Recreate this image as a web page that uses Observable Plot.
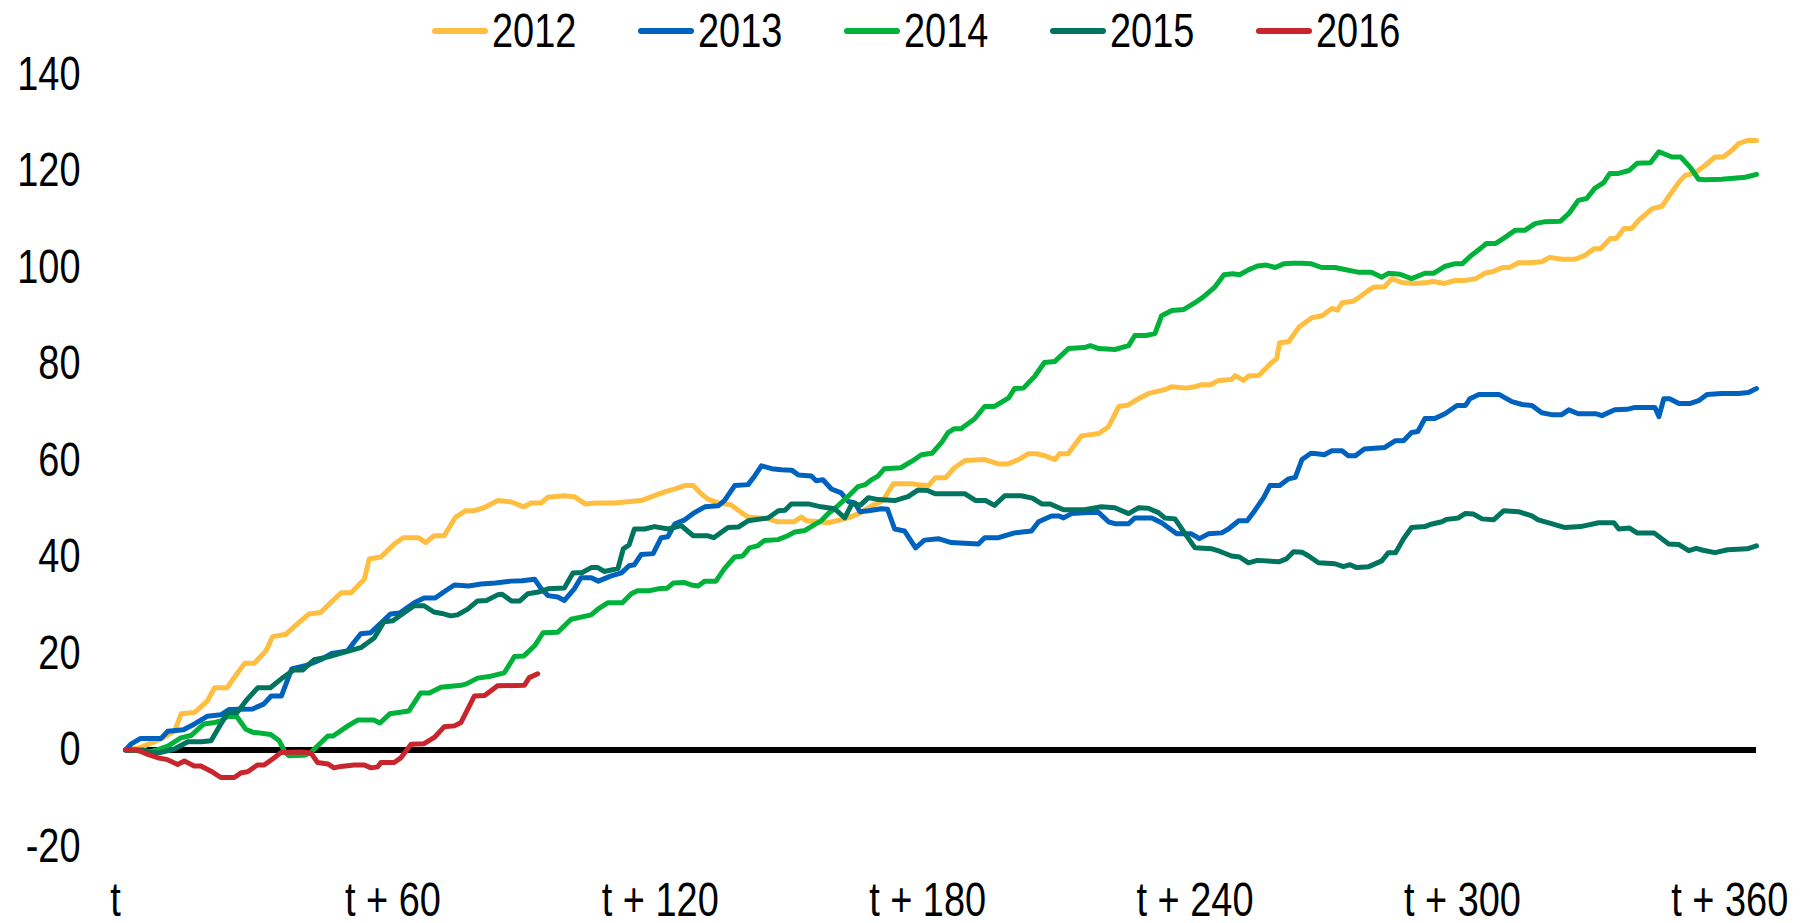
<!DOCTYPE html>
<html>
<head>
<meta charset="utf-8">
<script src="https://cdn.jsdelivr.net/npm/d3@7"></script>
<script src="https://cdn.jsdelivr.net/npm/@observablehq/plot@0.6"></script>
<style>
  html, body { margin: 0; padding: 0; background: #fff; overflow: hidden; }
  body { width: 1810px; height: 923px; position: relative; font-family: "Liberation Sans", Arial, sans-serif; }
  #legend { position: absolute; left: 0; top: 0; width: 1810px; height: 62px; z-index: 2; }
  .item { position: absolute; top: 0; height: 62px; display: flex; align-items: center; }
  .sw { width: 56px; height: 6px; border-radius: 3px; margin-right: 4px; flex: none; }
  .lab { display: inline-block; font-size: 48px; line-height: 48px; color: #000; transform: scaleX(0.79); transform-origin: left center; white-space: nowrap; }
  #chart { position: absolute; left: 0; top: 0; }
</style>
</head>
<body>
<div id="chart"></div>
<div id="legend"></div>
<script>
const seriesNames = ["2012", "2013", "2014", "2015", "2016"];
const seriesColors = ["#FFBE3F", "#0062BF", "#00B23A", "#00745F", "#C9252C"];

const yTicks = [-20, 0, 20, 40, 60, 80, 100, 120, 140];
const xTickDays = [0, 60, 120, 180, 240, 300, 360];
const xTickLabels = ["t", "t + 60", "t + 120", "t + 180", "t + 240", "t + 300", "t + 360"];

const days2012 = [0,3,8,11,12.5,15.5,18.4,20,22.8,25,26.8,28.9,31.5,33,36,39.4,41.2,43.8,46,48.4,50.6,53.6,54.7,57.3,60.3,62.3,65.7,67.4,69.2,71.5,74,76.4,78.3,80.6,83.6,86.6,89.4,91,93.3,94.8,98.5,100.7,103.2,105.6,109.7,115.7,118.7,121,123.3,125.5,127.4,129.2,130.7,133,135.9,138.2,139.7,144.2,146.4,150,151.7,152.8,155.5,157.7,162.2,165,167.4,170,172.3,176.4,177.9,180.2,181.7,184,186,188.4,192.8,195.9,198,200.4,202.6,204.5,206.2,208.6,209.6,211.5,214.5,218.4,220.6,222.9,225,227.3,229.6,233.2,234.8,238,240,241.5,243.5,245.3,248.2,249,250.9,252,254.3,257.2,258.3,259,261,263.3,266.2,268.5,270.7,272,273,275.5,277.4,278.5,280,282.5,284.2,286.4,289.4,292,293.5,296,298.4,300.5,303,305,307,309,310.5,312.6,315,317.8,319.6,322.3,325.3,327.5,329.5,331,333.2,334.5,336.3,338,339.6,342.6,344.8,346.5,348.6,350,352,354.5,356.7,358.5,360.5,362,363.9,366];
const vals2012 = [0,0.4,2.3,3.9,7.5,7.8,10.2,12.9,12.9,15.8,18,18,20.5,23.5,24,26.8,28.2,28.5,30.5,32.6,32.6,35.4,39.6,40,42.7,44,44,43,44.4,44.4,48.2,49.6,49.6,50.3,51.7,51.4,50.4,51.2,51.2,52.4,52.7,52.5,51,51.2,51.2,51.7,52.7,53.5,54.1,54.8,54.8,53.1,52,51.2,50.8,49.2,48.3,47.9,47.3,47.3,48.3,47.5,47.3,47.1,48.1,49.2,50.6,51.7,55.2,55.2,55,54.8,56.4,56.4,58.5,60,60.2,59.3,59.3,60.2,61.4,61.4,61,60.2,61.4,61.4,65.1,65.6,67,71.2,71.5,72.8,73.9,74.7,75.3,75,75.3,75.7,75.7,76.6,76.8,77.6,76.6,77.5,77.6,80.3,81.1,84.4,84.6,87.6,89.6,90,91.5,91.2,92.7,93,94.2,95,95.9,96,97.7,96.9,96.7,96.9,97.1,96.7,97.3,97.3,97.7,98.8,99.2,100,100,101,101,101.2,102.1,101.7,101.7,102.5,103.9,103.9,106,106,108.1,108.1,109.8,112.2,112.7,115,117.7,119.1,119.5,121.2,122.9,122.9,124.3,125.7,126.3,126.3];

const days2013 = [0,1.2,3.4,8,9.5,13,15.5,18.4,21.4,23.3,28.5,31,32.7,35,37.3,40.8,43.8,46.3,49.8,51.5,52.8,55,56.6,59.5,61.5,64.8,67,69.5,71.5,73.8,77,79.8,83,86.5,89,91.8,93.3,94.8,97,98.5,100.7,102.2,104.5,106.1,109,111.3,113,114.2,115.7,118.4,120.2,121.7,123.3,125.5,127.7,130,133,134.4,136.7,139.7,141.2,142.7,145,147.2,149.5,151,153.9,155,156.5,158.4,160.6,162.2,163.7,164.8,166.7,169.6,171,172.6,174.8,177.3,179.3,182.4,185.3,191.4,192.8,195.9,199.5,203.3,204.9,207.8,209.5,210.5,212.3,216.1,218.4,220.6,222,225.1,226.5,230.3,232.5,235.9,239.2,241,243,246,247.5,249.8,251.7,253.4,255.4,256.8,259,261,262.5,264,266,267.4,269,270.7,273,274.4,276,278,282.6,285,286.8,288.6,290,291.6,293.8,296.1,298.8,300.7,301.7,303.7,308.2,311.1,313.4,315.6,317.8,320,322.3,323.9,326,329.9,331.3,334.2,337,338.7,343.2,344.1,345.2,346.5,348.6,351,353,354.9,358.2,362,364.2,366];
const vals2013 = [0,1.2,2.4,2.4,3.9,4.2,5.4,7,7.3,8.4,8.5,9.5,11.2,11.2,16.8,17.6,18.7,20,20.5,22.6,24.1,24.3,25.7,28.2,28.4,30.5,31.5,31.5,32.8,34.2,34,34.4,34.6,35,35.1,35.4,33.4,32,31.7,31,33.4,35.7,35.7,35,36.1,36.7,38.2,38.4,40.5,40.7,44,44.2,46.9,47.7,49.2,50.4,50.6,51.7,54.8,55,56.8,58.9,58.3,58.1,58,57,56.8,55.8,56,54.1,53.3,51.5,51.2,49.4,49.6,50,49.9,45.8,45.4,41.9,43.5,43.8,43,42.7,44,44,45,45.4,47.3,48.5,48.5,48.1,49,49.2,49.2,47.3,46.9,46.9,48.1,48.1,47.1,44.8,44.8,43.8,44.8,45,45.8,47.5,47.5,49.6,52.3,54.8,54.8,56.2,56.5,60.2,61.5,61.4,61.2,62,62,61,61,62.4,62.7,64.1,64.1,65.8,66,68.7,68.7,69.7,71.4,71.4,72.8,73.7,73.7,72.2,71.6,71.4,69.9,69.5,69.5,70.5,69.7,69.7,69.3,70.5,70.6,71,71,69.1,72.8,72.8,71.8,71.8,72.4,73.7,73.9,73.9,74.1,74.9];

const days2014 = [0,5.7,7,9.5,12.4,14.7,17.6,20,21.4,23,25,27,28.5,32.6,34.5,35.8,36.7,40,41.5,42.5,45.4,46.6,49.9,52.1,55.7,57.1,59.3,63.6,66.2,68.2,70.8,75.3,76.5,79,82,85,87.3,89.4,91.8,93.7,97,100,103,104.5,106,108.2,111.5,113.5,114.9,117.5,119.5,121.5,122.9,125.5,127,128.5,130,132.5,134.4,136.7,138.5,140,141.8,143.4,146.4,148.6,150.2,152.5,154.6,156.1,157.7,159.1,162.2,164.4,166,167.4,168.9,170.3,174,176.4,178.6,181,183.1,184.6,186,187.5,190.5,192.8,195,198.2,199.5,201.5,204,206.2,208.5,211.6,215.2,216.5,218.4,222,225.1,226.5,229,231,232.5,234.8,237.5,240,242,244.5,246.5,248.5,250,252,254,256,258,260,262,264,266,268.4,271.4,273.6,276.8,279.6,281.9,283.4,286,288.6,291.6,293.5,296,298.4,300,302,304.4,305.4,307.5,309.5,311.8,314,316.3,318.6,322,323.9,326,327.9,329.7,331.7,333.1,335,337.4,339.2,342.2,344.1,347,349,351.1,353,354.5,358.2,363.5,366];
const vals2014 = [0,-0.3,0,0.8,2.5,3,5.4,5.7,6,7,6.9,4.3,3.7,3.2,1.9,-0.5,-1.2,-1.1,-0.6,0.3,2.9,2.9,5,6.2,6.2,5.6,7.5,8.1,11.8,11.8,13,13.4,13.7,14.9,15.3,16,19.4,19.5,21.6,24.3,24.4,27.1,27.7,28,29.2,30.5,30.5,32.4,33,33,33.4,33.5,34.6,34.7,34.2,34,35,35,37.6,40,40.2,41.9,42.3,43.4,43.6,44.4,45.2,45.5,46.7,47.5,49,50,52.6,54.6,55,56,56.8,58.3,58.5,59.8,61.2,61.5,63.7,65.8,66.6,66.6,68.6,71.2,71.2,73,74.9,75,77.4,80.3,80.5,83.2,83.4,83.8,83.2,83,83.8,85.9,85.9,86.3,90,91.1,91.3,92.7,94,96,98.5,98.7,98.5,99.5,100.3,100.5,100,100.8,100.9,100.9,100.8,100,100,99.6,99,99,98,98.8,98.6,97.7,98.8,98.8,100.2,100.8,100.8,102.5,104.2,105,105,106.2,107.7,107.7,109.1,109.5,109.6,111.2,113.9,114.3,116.4,117.6,119.5,119.5,120.1,121.6,121.7,124,122.9,122.9,120.8,118.3,118.2,118.3,118.7,119.3];

const days2015 = [0,4,5.7,8,11,14,17,19.2,21.4,22.9,25,27.4,29.7,32.5,34.9,37.8,39.8,42.3,45.5,48.4,52.8,55.8,58,60,63.4,64.8,67,69.2,71,73,74.5,76.8,79,81,83.6,84.5,86.6,88.5,90.3,93,94.8,98.5,100.4,102.5,104.5,106,107.4,110.5,111.7,113,114.2,116.5,118.7,121.8,124.7,127.4,130.7,132,135.2,137.5,139.7,144.2,146.5,148,149.4,153.2,156.1,159.1,161.4,163,165,166.7,168.9,172.6,175.6,177.9,180,181.7,188.4,190.8,193,195,197.3,201,203.5,205.6,207.5,210.5,215.2,219,222,225.1,227.3,229.5,231.8,233.2,235.5,237.8,240,243.8,245.5,248.2,250,252,254,258.8,260.5,262.1,264,265.5,267.7,271.4,273.3,274.8,276.3,279,281.9,283.4,285,286.8,288.6,291.6,293,295.4,296.5,299.1,300.6,302.5,304.4,307,309.3,312.6,315.6,317,320,321.5,323.1,326.5,330.6,334,335.1,337.5,339.2,343,346.3,348.5,350.8,352.5,354,356.7,359.5,363.9,366];
const vals2015 = [0,0,-0.6,-0.5,0.2,1.7,1.7,1.9,5.4,7.7,7.7,10.6,12.9,12.9,14.7,16.6,16.6,18.7,19.3,20.1,21.2,23.2,26.6,26.8,29,29.9,29.9,28.6,28.3,27.8,28,29.2,30.9,31,32.2,32.3,30.9,30.9,32.4,32.8,33.4,33.6,36.7,36.8,37.8,37.8,37,37.6,41.7,42.5,45.8,45.8,46.3,45.8,46.5,44.4,44.4,44,46.1,46.2,47.5,48.1,49.6,49.7,51,51,50.4,50,48.1,51,50.8,52.3,51.9,51.7,52.5,53.9,53.8,53.1,53.1,51.7,51.7,50.7,52.7,52.7,52.2,51,51,49.8,49.8,50.4,50.2,49,50.2,50.1,49.2,48.1,47.9,44.8,41.9,41.7,41.2,40.2,40,38.8,39.3,39,39.6,41.1,41,40.2,38.8,38.6,38,38.4,37.8,38,39.2,40.9,40.9,43.8,46.1,46.3,46.8,47.3,47.8,48.1,49,48.9,47.9,47.7,49.6,49.4,48.5,47.7,46.9,46.5,46.1,46.3,47.1,47.1,45.8,46,45,45,42.7,42.6,41.3,41.8,41.4,40.9,41.5,41.7,42.3];

const days2016 = [0,2.7,5,7.2,9.4,11.7,13.2,15.4,16.9,19.2,21.4,24.4,26,27.4,29.6,31.1,33.4,34.9,39.4,41.6,43.1,45.4,46.8,48.3,51.3,53.6,55.1,56.6,57.3,60.3,61.8,64.1,67,69.3,71.5,73.8,75.3,78.3,80.6,83.5,89.5,90.6,92.5];
const vals2016 = [0,0,-0.9,-1.6,-2,-3,-2.3,-3.3,-3.3,-4.4,-5.7,-5.7,-4.7,-4.5,-3.1,-3.1,-1.6,-0.5,-0.4,-0.6,-2.6,-2.9,-3.7,-3.4,-3.1,-3.1,-3.7,-3.5,-2.6,-2.6,-1.6,1.2,1.3,2.6,4.8,5,5.7,11.2,11.3,13.3,13.4,15,15.8];

const allDays = [days2012, days2013, days2014, days2015, days2016];
const allVals = [vals2012, vals2013, vals2014, vals2015, vals2016];

const FONT = '"Liberation Sans", Arial, sans-serif';
const NARROW = 0.79;

// legend (layout positions only)
const legend = document.getElementById("legend");
seriesNames.forEach((name, i) => {
  const item = document.createElement("div");
  item.className = "item";
  item.style.left = (432 + i * 206) + "px";
  const sw = document.createElement("div");
  sw.className = "sw";
  sw.style.background = seriesColors[i];
  const lab = document.createElement("span");
  lab.className = "lab";
  lab.textContent = name;
  item.appendChild(sw);
  item.appendChild(lab);
  legend.appendChild(item);
});

const rows = [];
seriesNames.forEach((name, i) => {
  allDays[i].forEach((d, j) => rows.push({series: name, day: d, value: allVals[i][j]}));
});

const lineMarks = seriesNames.map((name, i) =>
  Plot.line(rows.filter(r => r.series === name), {
    x: "day", y: "value", stroke: seriesColors[i], strokeWidth: 5,
    strokeLinejoin: "round", strokeLinecap: "round"
  })
);

const chart = Plot.plot({
  width: 1810,
  height: 923,
  marginTop: 74,
  marginBottom: 77,
  marginLeft: 125,
  marginRight: 54,
  style: { fontFamily: FONT, fontSize: "48px", color: "#000", background: "transparent", overflow: "visible" },
  x: { domain: [0, 366], ticks: xTickDays, tickFormat: d => xTickLabels[xTickDays.indexOf(d)], tickSize: 0, tickPadding: 35, label: null },
  y: { domain: [-20, 140], ticks: yTicks, tickFormat: d => String(d), tickSize: 0, tickPadding: 45, label: null },
  marks: [
    Plot.ruleY([0], { stroke: "#000", strokeWidth: 6 }),
    ...lineMarks
  ]
});
document.getElementById("chart").appendChild(chart);

// condense the axis text horizontally (narrow typeface look), scaling about each label's anchor;
// the first category label sits a little left of its tick in the original layout
chart.querySelectorAll("text").forEach(t => {
  const x = +(t.getAttribute("x") || 0);
  const tr = t.getAttribute("transform") || "";
  const shift = t.textContent === xTickLabels[0] ? -10 : 0;
  t.setAttribute("transform", `${tr} translate(${x + shift},0) scale(${NARROW},1) translate(${-x},0)`.trim());
});
</script>
</body>
</html>
